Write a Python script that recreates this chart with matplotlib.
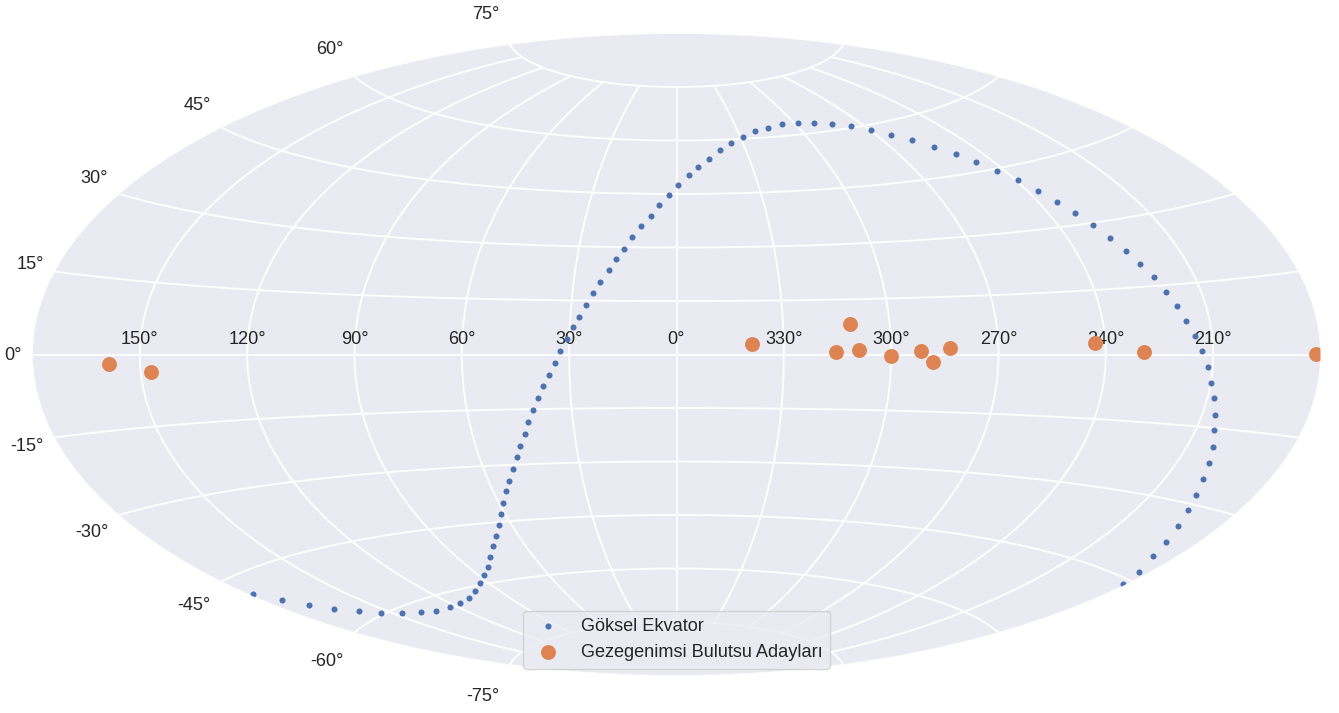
import numpy as np
import matplotlib
matplotlib.use('Agg')
import matplotlib.pyplot as plt
from matplotlib.transforms import Affine2D

# Celestial equator, galactic longitude / latitude in degrees
equator_l = [178.4, 174.2, 170.1, 165.0, 159.3, 153.9, 146.9, 139.2, 132.1, 123.7,
             115.5, 108.2, 100.6, 93.5, 87.5, 82.2, 77.4, 72.6, 68.2, 64.6,
             61.4, 58.7, 56.0, 53.4, 50.9, 48.6, 46.8, 44.5, 43.0, 41.0,
             39.3, 37.7, 35.8, 34.1, 32.6, 30.7, 29.2, 27.6, 25.8, 24.1,
             22.2, 20.1, 18.2, 16.1, 13.9, 11.5, 8.6, 6.0, 2.8, 359.4,
             355.3, 351.3, 346.5, 341.3, 335.5, 328.9, 321.8, 314.6, 306.1, 298.2,
             290.4, 282.8, 275.7, 269.6, 263.9, 258.2, 253.8, 249.5, 246.1, 242.4,
             239.4, 236.7, 234.1, 231.8, 229.5, 227.4, 225.5, 223.7, 221.6, 219.9,
             218.2, 216.5, 214.8, 213.1, 211.3, 209.8, 208.1, 206.3, 204.8, 202.6,
             200.7, 198.8, 196.8, 194.7, 192.1, 189.5, 187.0, 183.4, 181.1]
equator_b = [-48.6, -51.3, -53.7, -55.9, -57.9, -59.7, -61.1, -62.2, -62.9, -63.1,
             -62.8, -62.3, -61.0, -59.6, -57.9, -56.0, -53.8, -51.1, -48.5, -45.8,
             -43.0, -40.2, -37.0, -34.2, -31.1, -27.9, -25.0, -21.8, -18.5, -15.2,
             -12.0, -8.7, -5.7, -2.4, 0.9, 4.2, 7.5, 10.5, 13.8, 17.2,
             20.2, 23.6, 26.6, 29.6, 32.9, 36.1, 38.8, 41.8, 44.8, 47.5,
             50.2, 52.5, 54.8, 57.1, 59.0, 60.5, 61.9, 62.6, 63.2, 63.1,
             62.6, 61.6, 60.4, 58.7, 56.8, 54.8, 52.3, 49.8, 47.2, 44.5,
             41.7, 38.6, 35.6, 32.7, 29.6, 26.3, 23.1, 20.0, 16.9, 13.6,
             10.4, 7.2, 4.0, 0.7, -2.6, -5.8, -9.0, -12.3, -15.4, -18.7,
             -21.8, -25.1, -28.2, -31.2, -34.3, -37.4, -40.3, -43.3, -45.9]

# Planetary nebula candidates
pn_l = [338.8, 311.1, 315.4, 309.1, 300.0, 291.7, 288.4, 283.6, 242.8, 229.4, 181.3, 158.8, 147.2]
pn_b = [2.9, 8.4, 0.6, 1.2, -0.4, 0.8, -2.0, 1.8, 2.8, 0.5, 0.1, -1.8, -3.6]

lon_labels = ['150°', '120°', '90°', '60°', '30°', '0°', '330°', '300°', '270°', '240°', '210°']

plt.rcParams['font.family'] = ['Liberation Sans', 'DejaVu Sans']
plt.rcParams['text.color'] = '.15'
plt.rcParams['xtick.color'] = '.15'
plt.rcParams['ytick.color'] = '.15'


def to_x(l):
    # longitude runs backwards on the sky map and is centred on 0
    return np.radians(-((np.array(l) + 180) % 360 - 180))


fig = plt.figure(figsize=(13.39, 7.13), dpi=100)
ax = fig.add_axes([32.5 / 1339, (713 - 675.5) / 713, 1288 / 1339, 642 / 713], projection='aitoff')
ax.set_aspect('auto')
ax.set_facecolor('#EAEAF2')
ax.grid(True, color='white', linewidth=1.35)
for spine in ax.spines.values():
    spine.set_edgecolor('white')
    spine.set_linewidth(0.5)

ax.scatter(to_x(equator_l), np.radians(equator_b), s=19, color='#4C72B0', linewidths=0, zorder=3, label='Göksel Ekvator')
ax.scatter(to_x(pn_l), np.radians(pn_b), s=115, color='#DD8452', linewidths=0, zorder=3, label='Gezegenimsi Bulutsu Adayları')

ax.set_xticklabels(lon_labels)
ax.tick_params(labelsize=13.1)

# push the tick labels a bit further out than the geo axes default
for tick in ax.xaxis.get_major_ticks():
    tick.label1.set_transform(tick.label1.get_transform() + Affine2D().translate(0, 2))
for tick in ax.yaxis.get_major_ticks():
    tick.label1.set_transform(tick.label1.get_transform() + Affine2D().translate(-2.5, -1))

ax.legend(loc='lower center', bbox_to_anchor=(676.5 / 1339, (713 - 668.5) / 713), bbox_transform=fig.transFigure,
          fontsize=13.1, facecolor='#EAEAF2', borderaxespad=0, framealpha=0.8)

fig.savefig('out.png', dpi=100)
